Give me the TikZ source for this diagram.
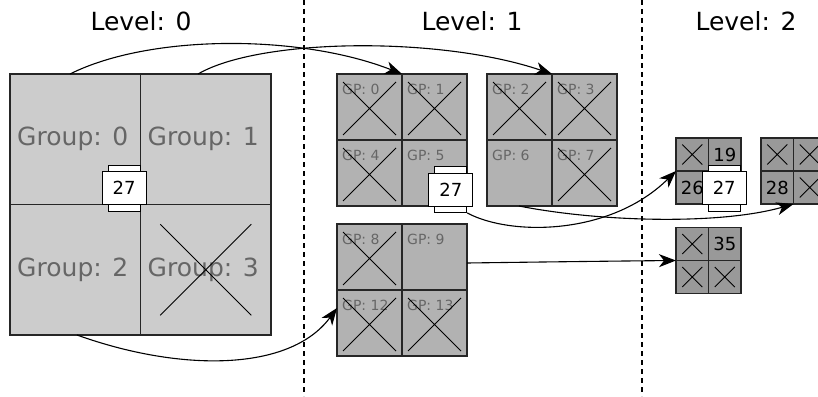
\documentclass[tikz,border=0pt]{standalone}
\usepackage{fontspec}
\setmainfont{DejaVu Sans}
\usetikzlibrary{shapes.misc,arrows.meta,calc}

\begin{document}
\begin{tikzpicture}[x=1pt,y=-1pt,
  box/.style={draw=black!85,line width=1.1pt,inner sep=0,outer sep=0},
  boxzero/.style={box,fill=black!20,minimum width=261pt,minimum height=261pt},
  boxone/.style={box,fill=black!30,minimum width=130pt,minimum height=132pt},
  boxtwo/.style={box,fill=black!40,minimum width=65pt,minimum height=66pt},
  divider/.style={draw=black!85,line width=1.1pt},
  xmark/.style={cross out,draw=black,line width=0.9pt,inner sep=0,outer sep=0},
  xzero/.style={xmark,minimum size=91pt},
  xone/.style={xmark,minimum size=53pt},
  xtwo/.style={xmark,minimum size=20pt},
  grouplbl/.style={text=black!60,font=\fontsize{25}{30}\selectfont,inner sep=0},
  gplbl/.style={text=black!60,font=\fontsize{14}{17}\selectfont,inner sep=0,anchor=base west},
  idlbl/.style={text=black,font=\fontsize{18}{22}\selectfont,inner sep=0},
  lvllbl/.style={text=black,font=\fontsize{25}{30}\selectfont,inner sep=0,anchor=base},
  tab/.style={draw=black,line width=0.9pt,fill=white,minimum width=32pt,minimum height=46pt,inner sep=0},
  card/.style={draw=black,line width=0.9pt,fill=white,minimum width=44pt,minimum height=33pt,inner sep=0,font=\fontsize{18}{22}\selectfont},
  link/.style={line width=1.1pt,-{Stealth[length=17pt,width=13pt,inset=5pt]}},
  sep/.style={line width=2pt,dash pattern=on 5pt off 4pt}
]
\useasboundingbox (0,0) rectangle (818,396);

% level separators
\coordinate (s1a) at (304,0);  \coordinate (s1b) at (304,396);
\coordinate (s2a) at (642,0);  \coordinate (s2b) at (642,396);
\draw[sep] (s1a) -- (s1b);
\draw[sep] (s2a) -- (s2b);

% level titles
\node[lvllbl] (L0) at (141,31) {Level: 0};
\node[lvllbl] (L1) at (472,31) {Level: 1};
\node[lvllbl] (L2) at (746,31) {Level: 2};

% ---- level 0 ----
\node[boxzero] (G) at (140.5,204.5) {};
\draw[divider] (G.north) -- (G.south) (G.west) -- (G.east);
\node[grouplbl] (g0) at (72.75,139.25) {Group: 0};
\node[grouplbl] (g1) at (203.25,139.25) {Group: 1};
\node[grouplbl] (g2) at (72.75,269.75) {Group: 2};
\node[grouplbl] (g3) at (203.25,269.75) {Group: 3};
\node[xzero] (g3x) at (205.75,269.75) {};

% ---- level 1 ----
\node[boxone] (A) at (402,140) {};
\draw[divider] (A.north) -- (A.south) (A.west) -- (A.east);
\node[gplbl] (p0) at (342,94) {GP: 0};
\node[gplbl] (p1) at (407,94) {GP: 1};
\node[gplbl] (p4) at (342,160) {GP: 4};
\node[gplbl] (p5) at (407,160) {GP: 5};
\node[xone] (p0x) at (369.5,108.5) {};
\node[xone] (p1x) at (434.5,108.5) {};
\node[xone] (p4x) at (369.5,174.5) {};

\node[boxone] (B) at (552,140) {};
\draw[divider] (B.north) -- (B.south) (B.west) -- (B.east);
\node[gplbl] (p2) at (492,94) {GP: 2};
\node[gplbl] (p3) at (557,94) {GP: 3};
\node[gplbl] (p6) at (492,160) {GP: 6};
\node[gplbl] (p7) at (557,160) {GP: 7};
\node[xone] (p2x) at (519.5,108.5) {};
\node[xone] (p3x) at (584.5,108.5) {};
\node[xone] (p7x) at (584.5,174.5) {};

\node[boxone] (C) at (402,290) {};
\draw[divider] (C.north) -- (C.south) (C.west) -- (C.east);
\node[gplbl] (p8) at (342,244) {GP: 8};
\node[gplbl] (p9) at (407,244) {GP: 9};
\node[gplbl] (p12) at (342,310) {GP: 12};
\node[gplbl] (p13) at (407,310) {GP: 13};
\node[xone] (p8x) at (369.5,258.5) {};
\node[xone] (p12x) at (369.5,324.5) {};
\node[xone] (p13x) at (434.5,324.5) {};

% ---- level 2 ----
\node[boxtwo] (D) at (708.5,171) {};
\draw[divider] (D.north) -- (D.south) (D.west) -- (D.east);
\node[xtwo] (d0x) at (692.25,154.5) {};
\node[idlbl] (d19) at (724.75,154.5) {19};
\node[idlbl] (d26) at (692.25,187.5) {26};

\node[boxtwo] (E) at (793.5,171) {};
\draw[divider] (E.north) -- (E.south) (E.west) -- (E.east);
\node[xtwo] (e0x) at (777.25,154.5) {};
\node[xtwo] (e1x) at (809.75,154.5) {};
\node[idlbl] (e28) at (777.25,187.5) {28};
\node[xtwo] (e3x) at (809.75,187.5) {};

\node[boxtwo] (F) at (708.5,260.5) {};
\draw[divider] (F.north) -- (F.south) (F.west) -- (F.east);
\node[xtwo] (f0x) at (692.25,244) {};
\node[idlbl] (f35) at (724.75,244) {35};
\node[xtwo] (f2x) at (692.25,277) {};
\node[xtwo] (f3x) at (724.75,277) {};

% ---- element 27 at each level ----
\node[tab] (c0t) at (124.2,188.2) {};
\node[card] (c0) at (124.2,188.2) {27};
\node[tab] (c1t) at (450.75,189.5) {};
\node[card] (c1) at (450.75,189.5) {27};
\node[tab] (c2t) at (724.2,188) {};
\node[card] (c2) at (724.2,188) {27};

% ---- refinement links ----
\draw[link] ($(G.north west)+(60,0)$) .. controls (150,34) and (300,34) .. (A.north);
\draw[link] ($(G.north)+(57.5,0)$) .. controls (260,38) and (440,36) .. (B.north);
\draw[link] ($(G.south west)+(67,0)$) .. controls (180,372) and (290,372) .. ($(C.west)+(0,18)$);
\draw[link] (c1t.south east) .. controls (510,236) and (610,236) .. (D.west);
\draw[link] ($(B.south west)+(32,0)$) .. controls (600,222) and (720,225) .. (E.south);
\draw[link] ($(C.north east)+(0,39)$) .. controls (540,262) and (620,261) .. (F.west);
\end{tikzpicture}
\end{document}
